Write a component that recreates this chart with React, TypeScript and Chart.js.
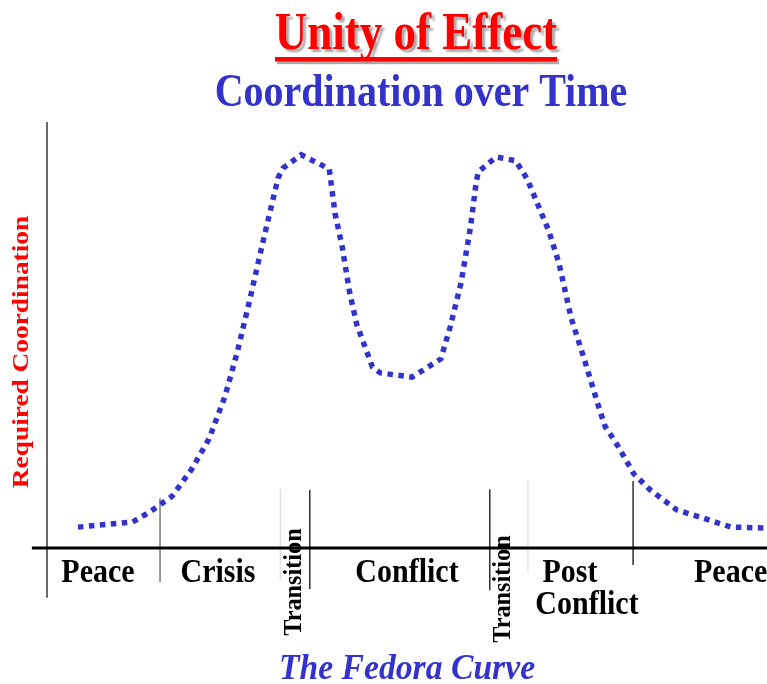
import React, { useEffect, useRef } from "react";
import { Chart, registerables } from "chart.js";

Chart.register(...registerables);

// Time axis (0 = start of first peace, 100 = right edge) and required coordination (0-100)
const timeValues = [
  4.3, 11.9, 14.3, 17.4, 20.1, 22.5, 24.7, 26.4, 28.2, 29.6, 31.0, 32.1, 32.8, 35.3,
  39.2, 40.0, 41.0, 42.0, 43.0, 45.2, 46.3, 50.7, 54.7, 56.0, 57.5, 58.8, 59.6, 59.9,
  62.4, 65.1, 66.7, 69.7, 71.1, 72.8, 74.7, 76.5, 77.5, 79.2, 81.5, 83.8, 87.5, 90.6,
  95.0, 100.0,
];
const coordValues = [
  4.9, 6.1, 8.5, 12.2, 18.5, 25.6, 35.5, 45.8, 58.5, 69.0, 79.1, 86.9, 89.2, 92.3,
  89.0, 78.6, 70.7, 60.3, 52.6, 42.5, 41.1, 40.1, 44.4, 51.9, 62.2, 75.1, 85.7, 88.3,
  91.8, 90.9, 86.6, 74.4, 66.9, 54.0, 43.9, 33.8, 28.6, 24.2, 17.4, 13.6, 8.9, 7.3,
  4.9, 4.7,
];

// Phase boundary markers
const dividerX = [15.7, 32.4, 36.5, 61.5, 66.8, 81.4];
const dividerTop = [11.7, 13.8, 13.6, 13.8, 15.7, 15.7];
const dividerBottom = [-8.0, -7.7, -9.6, -9.9, -5.6, -4.0];
const dividerDotted = [false, true, false, false, true, false];

// Axes extents
const yAxisRange = [-11.7, 100];
const xAxisRange = [-2.1, 100];

const SERIF = "'Liberation Serif', 'Times New Roman', serif";

function drawText(
  ctx: CanvasRenderingContext2D,
  text: string,
  x: number,
  y: number,
  font: string,
  color: string,
  opts: { sx?: number; sy?: number; rot?: number; align?: CanvasTextAlign; shadow?: boolean } = {}
) {
  ctx.save();
  ctx.translate(x, y);
  if (opts.rot) ctx.rotate(opts.rot);
  ctx.scale(opts.sx ?? 1, opts.sy ?? 1);
  ctx.font = font;
  ctx.fillStyle = color;
  ctx.textAlign = opts.align ?? "center";
  ctx.textBaseline = "alphabetic";
  if (opts.shadow) {
    ctx.shadowColor = "rgba(150,150,150,0.8)";
    ctx.shadowOffsetX = 3;
    ctx.shadowOffsetY = 3;
    ctx.shadowBlur = 2;
  }
  ctx.fillText(text, 0, 0);
  ctx.restore();
}

const textPlugin = {
  id: "fedoraText",
  afterDraw(chart: any) {
    const ctx: CanvasRenderingContext2D = chart.ctx;
    // Title with underline and shadow
    drawText(ctx, "Unity of Effect", 416, 49, `bold 45px ${SERIF}`, "#FF0000", { sy: 1.17, shadow: true });
    ctx.save();
    ctx.shadowColor = "rgba(150,150,150,0.8)";
    ctx.shadowOffsetX = 2;
    ctx.shadowOffsetY = 2;
    ctx.shadowBlur = 1;
    ctx.fillStyle = "#FF0000";
    ctx.fillRect(275, 57, 282, 4.5);
    ctx.restore();
    drawText(ctx, "Coordination over Time", 421, 106, `bold 40px ${SERIF}`, "#3333CC", { sy: 1.17 });

    // Y axis label
    drawText(ctx, "Required Coordination", 28, 352, `bold 24px ${SERIF}`, "#FF0000", {
      rot: -Math.PI / 2,
      sx: 1.14,
    });

    // Phase labels
    const lf = `bold 30px ${SERIF}`;
    drawText(ctx, "Peace", 98, 582, lf, "#000", { sy: 1.1 });
    drawText(ctx, "Crisis", 218, 582, lf, "#000", { sy: 1.1 });
    drawText(ctx, "Conflict", 407, 582, lf, "#000", { sy: 1.1 });
    drawText(ctx, "Post", 570, 582, lf, "#000", { sy: 1.1 });
    drawText(ctx, "Conflict", 587, 614, lf, "#000", { sy: 1.1 });
    drawText(ctx, "Peace", 694, 582, lf, "#000", { sy: 1.1, align: "left" });

    const tf = `bold 25px ${SERIF}`;
    drawText(ctx, "Transition", 301, 582, tf, "#000", { rot: -Math.PI / 2, sx: 0.97 });
    drawText(ctx, "Transition", 510, 589, tf, "#000", { rot: -Math.PI / 2, sx: 0.97 });

    // Caption
    drawText(ctx, "The Fedora Curve", 407, 679, `italic bold 33px ${SERIF}`, "#3333CC", { sy: 1.1, sx: 1.02 });
  },
};

export default function App() {
  const canvasRef = useRef<HTMLCanvasElement | null>(null);

  useEffect(() => {
    const canvas = canvasRef.current;
    if (!canvas) return;

    const dividerSets = dividerX.map((x, i) => ({
      type: "line" as const,
      data: [
        { x, y: dividerTop[i] },
        { x, y: dividerBottom[i] },
      ],
      borderColor: dividerDotted[i] ? "#b8b8b8" : i === 0 ? "#666666" : "#111111",
      borderWidth: dividerDotted[i] ? 1.2 : 1.3,
      borderDash: dividerDotted[i] ? [1, 1] : [],
      pointRadius: 0,
      clip: false as any,
      order: 2,
    }));

    const chart = new Chart(canvas, {
      type: "line",
      data: {
        datasets: [
          {
            data: timeValues.map((t, i) => ({ x: t, y: coordValues[i] })),
            borderColor: "#3333CC",
            borderWidth: 5.5,
            borderDash: [5.5, 5.5],
            borderCapStyle: "butt",
            tension: 0,
            pointRadius: 0,
            order: 0,
          },
          {
            data: [
              { x: 0, y: yAxisRange[0] },
              { x: 0, y: yAxisRange[1] },
            ],
            borderColor: "#444444",
            borderWidth: 1.6,
            pointRadius: 0,
            clip: false as any,
            order: 3,
          },
          {
            data: [
              { x: xAxisRange[0], y: 0 },
              { x: xAxisRange[1], y: 0 },
            ],
            borderColor: "#000000",
            borderWidth: 3,
            pointRadius: 0,
            clip: false as any,
            order: 1,
          },
          ...dividerSets,
        ] as any,
      },
      options: {
        responsive: false,
        maintainAspectRatio: false,
        animation: false,
        layout: { padding: { left: 47, right: 0, top: 122, bottom: 136 } },
        scales: {
          x: { type: "linear", min: 0, max: 100, display: false },
          y: { type: "linear", min: 0, max: 100, display: false },
        },
        plugins: {
          legend: { display: false },
          title: { display: false },
          tooltip: { enabled: false },
        },
      },
      plugins: [textPlugin],
    });

    return () => chart.destroy();
  }, []);

  return (
    <div style={{ position: "fixed", left: 0, top: 0, width: 767, height: 684, background: "#fff" }}>
      <canvas ref={canvasRef} width={767} height={684} style={{ display: "block" }} />
    </div>
  );
}
